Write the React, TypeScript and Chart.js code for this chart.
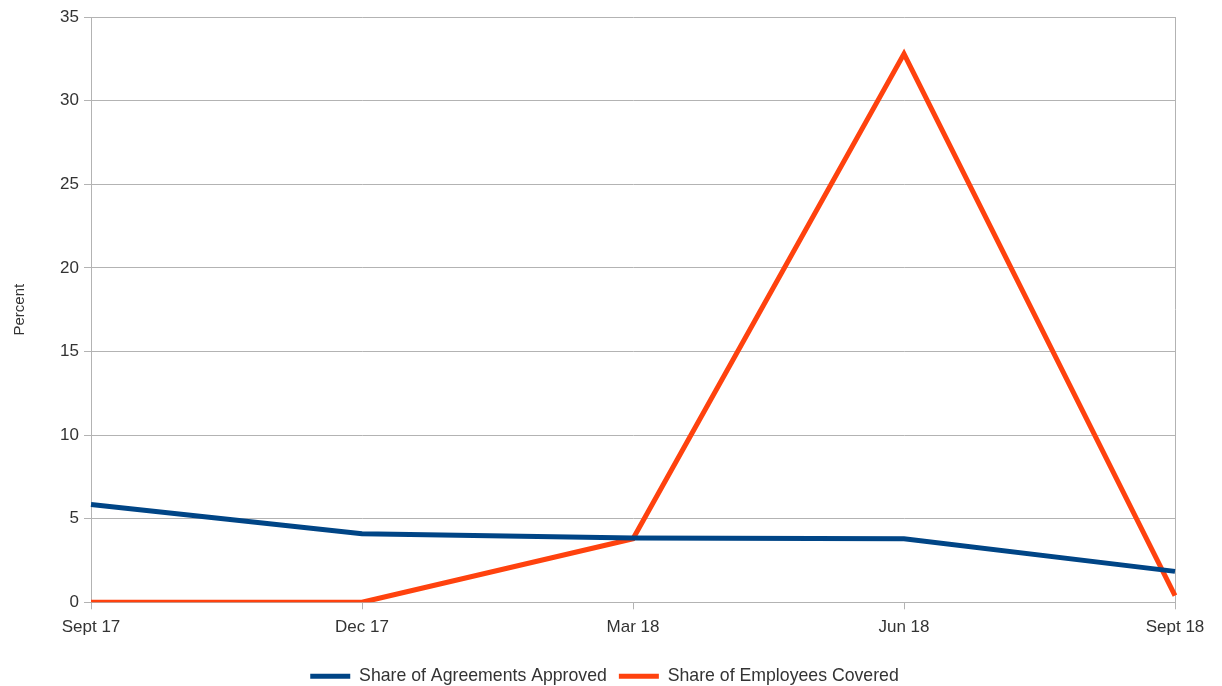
import React, { useEffect, useRef } from "react";
import { Chart, registerables } from "chart.js";

Chart.register(...registerables);

const quarters = ["Sept 17", "Dec 17", "Mar 18", "Jun 18", "Sept 18"];
const agreementsApproved = [5.85, 4.1, 3.85, 3.8, 1.85];
const employeesCovered = [0, 0, 3.8, 32.8, 0.4];
const yTicks = [0, 5, 10, 15, 20, 25, 30, 35];

const BLUE = "#004586";
const ORANGE = "#ff420e";
const GRID = "#b3b3b3";
const TEXT = "#333333";
const FONT = "'Liberation Sans', Arial, sans-serif";

// Centre the legend on the page rather than on the padded layout box.
const legendShift = {
  id: "legendShift",
  afterLayout(chart: any) {
    const lg = chart.legend;
    if (!lg) return;
    lg.left += 17;
    lg.right += 17;
  },
};

export default function App() {
  const canvasRef = useRef<HTMLCanvasElement | null>(null);

  useEffect(() => {
    document.body.style.margin = "0";
    const canvas = canvasRef.current;
    if (!canvas) return;
    const lastIndex = quarters.length - 1;
    const chart = new Chart(canvas, {
      type: "line",
      data: {
        labels: quarters,
        datasets: [
          {
            label: "Share of Agreements Approved",
            data: agreementsApproved,
            borderColor: BLUE,
            backgroundColor: BLUE,
            borderWidth: 5,
            pointRadius: 0,
            tension: 0,
          },
          {
            label: "Share of Employees Covered",
            data: employeesCovered,
            borderColor: ORANGE,
            backgroundColor: ORANGE,
            borderWidth: 5,
            pointRadius: 0,
            tension: 0,
          },
        ],
      },
      plugins: [legendShift],
      options: {
        animation: false,
        responsive: false,
        layout: { padding: { left: 0, right: 47, top: 17, bottom: -9 } },
        plugins: {
          tooltip: { enabled: false },
          legend: {
            position: "bottom",
            labels: {
              color: TEXT,
              font: { family: FONT, size: 17.7 },
              boxWidth: 40,
              boxHeight: 5,
              padding: 12,
              generateLabels: (c: any) =>
                c.data.datasets.map((ds: any, i: number) => ({
                  text: ds.label,
                  fillStyle: ds.borderColor,
                  strokeStyle: ds.borderColor,
                  lineWidth: 0,
                  hidden: false,
                  datasetIndex: i,
                  fontColor: TEXT,
                })),
            },
          },
        },
        scales: {
          x: {
            offset: false,
            grid: {
              display: true,
              drawOnChartArea: true,
              color: (ctx: any) => (ctx.index === lastIndex ? GRID : "rgba(0,0,0,0)"),
              tickColor: GRID,
              tickLength: 7,
            },
            border: { color: GRID },
            ticks: {
              color: TEXT,
              font: { family: FONT, size: 17 },
              maxRotation: 0,
              padding: 8,
            },
            afterFit: (s: any) => {
              s.height = 53;
            },
          },
          y: {
            min: 0,
            max: 35,
            afterBuildTicks: (s: any) => {
              s.ticks = yTicks.map((v) => ({ value: v }));
            },
            grid: { color: GRID, tickColor: GRID, tickLength: 7 },
            border: { color: GRID },
            ticks: {
              color: TEXT,
              font: { family: FONT, size: 17 },
              padding: 5,
            },
            title: {
              display: true,
              text: "Percent",
              color: TEXT,
              font: { family: FONT, size: 15 },
              padding: { top: 11, bottom: 0 },
            },
            afterFit: (s: any) => {
              s.width = 91;
            },
          },
        },
      },
    });
    return () => chart.destroy();
  }, []);

  return <canvas ref={canvasRef} width={1222} height={686} style={{ display: "block" }} />;
}
